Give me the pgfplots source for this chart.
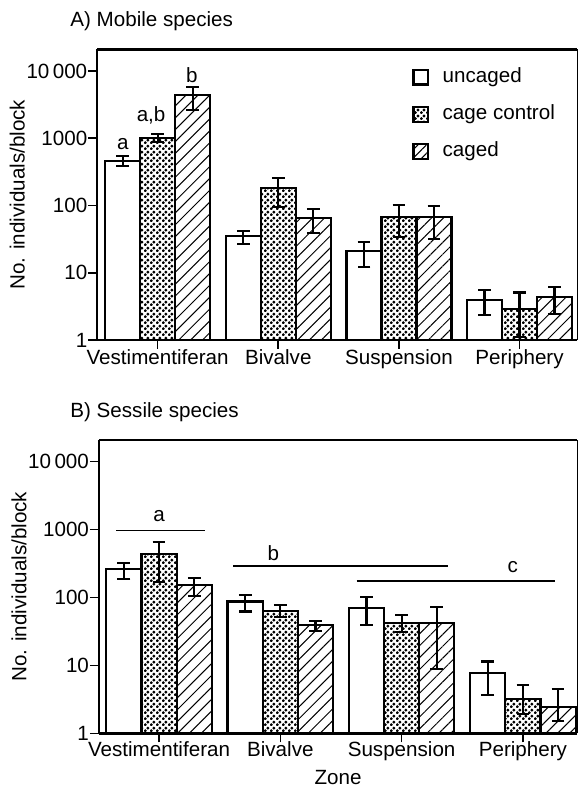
\documentclass[border=0pt]{standalone}
\usepackage{fontspec}
\setmainfont{Liberation Sans}
\usepackage{pgfplots}
\pgfplotsset{compat=1.18}
\usepackage{pgfplotstable}
\usetikzlibrary{patterns,patterns.meta}

\tikzdeclarepattern{
  name=stipple, type=uncolored,
  bottom left={(0pt,0pt)}, top right={(3pt,3pt)}, tile size={(3pt,3pt)},
  code={\pgfpathcircle{\pgfpoint{0.75pt}{0.75pt}}{0.92pt}\pgfpathcircle{\pgfpoint{2.25pt}{2.25pt}}{0.92pt}\pgfusepath{fill}}
}

% Panel A (mobile species): group, mean, upper, lower
\pgfplotstableread{
g y hi lo
0 464 545 387
1 35.2 42.2 26.8
2 21.3 29 12.3
3 3.89 5.54 2.35
}\Aunc
\pgfplotstableread{
g y hi lo
0 998 1157 889
1 180 259 96
2 68.2 102 34.4
3 2.86 5.1 1.12
}\Acc
\pgfplotstableread{
g y hi lo
0 4400 5850 2630
1 64.5 87.8 39.4
2 66.7 99.3 31.4
3 4.36 6.2 2.44
}\Acag
% Panel B (sessile species)
\pgfplotstableread{
g y hi lo
0 260 326 185
1 87 109 62
2 69.3 100.7 39.4
3 7.8 11.4 3.66
}\Bunc
\pgfplotstableread{
g y hi lo
0 433 663 171
1 64 77.5 52
2 42.6 55 31.4
3 3.2 5.1 1.9
}\Bcc
\pgfplotstableread{
g y hi lo
0 153 196 105
1 39.4 45 32.4
2 41.7 73 8.8
3 2.47 4.45 1.5
}\Bcag

\newcommand{\fs}{\fontsize{10.3}{12}\selectfont}
\newcommand{\ft}{\fontsize{10.3}{12}\selectfont}

\begin{document}
\begin{tikzpicture}
\path (0pt,0pt) rectangle (289pt,-396pt);
\node[anchor=west, font=\fs, inner sep=0pt] at (35pt,-10.5pt) {A) Mobile species};
\node[anchor=west, font=\fs, inner sep=0pt] at (35pt,-205.9pt) {B) Sessile species};

\begin{axis}[at={(48.65pt,-170pt)}, anchor=south west,
  scale only axis, width=239.85pt, height=145.35pt, xmin=-0.5, xmax=3.476,
  ymode=log, ymin=1, ymax=21000,
  axis lines=left, axis line style={-, line width=1.2pt},
  xtick={0,1,2,3}, xticklabels={Vestimentiferan,Bivalve,Suspension,Periphery},
  ytick={1,10,100,1000,10000},
  yticklabels={{\ft 1},{\ft 10},{\ft 100},{\ft 1000},{\ft 10\,000}},
  yminorticks=false, tick align=outside, major tick length=4.5pt,
  tick style={line width=0.8pt, black},
  xticklabel style={yshift=3pt, font=\fs},
  yticklabel style={xshift=3pt, font=\ft},
  ylabel={No. individuals/block},
  every axis y label/.style={at={(axis description cs:0,0.5)}, xshift=-40pt, rotate=90, anchor=center, font=\fs},
  clip=false,
  legend style={at={(0.656,0.954)}, anchor=north west, draw=none, fill=none, inner sep=0pt,
    row sep=4.6pt, font=\fs, nodes={text height=0.75em, text depth=0.25em}},
  legend cell align=left]
\addlegendimage{legend image code/.code={\draw[line width=1.1pt, fill=white] (0pt,-3.7pt) rectangle (7.4pt,3.7pt); \path (12.4pt,0pt);}}
\addlegendentry{uncaged}
\addlegendimage{legend image code/.code={\draw[line width=1.1pt, pattern=stipple, pattern color=black] (0pt,-3.7pt) rectangle (7.4pt,3.7pt); \path (12.4pt,0pt);}}
\addlegendentry{cage control}
\addlegendimage{legend image code/.code={\draw[line width=1.1pt, pattern={Lines[angle=45,distance=3pt,line width=0.5pt]}, pattern color=black] (0pt,-3.7pt) rectangle (7.4pt,3.7pt); \path (12.4pt,0pt);}}
\addlegendentry{caged}
\addplot[forget plot, ybar, bar width=0.29, bar shift=0pt, draw=black, line width=1.1pt, fill=white,
  error bars/.cd, y dir=both, y explicit, error bar style={line width=1.1pt, black},
  error mark options={rotate=90, mark size=3.2pt, line width=1.1pt, black}]
  table[x expr=\thisrow{g}-0.29, y=y,
  y error plus expr=\thisrow{hi}-\thisrow{y}, y error minus expr=\thisrow{y}-\thisrow{lo}] {\Aunc};
\addplot[forget plot, ybar, bar width=0.29, bar shift=0pt, draw=black, line width=1.1pt, pattern=stipple, pattern color=black,
  error bars/.cd, y dir=both, y explicit, error bar style={line width=1.1pt, black},
  error mark options={rotate=90, mark size=3.2pt, line width=1.1pt, black}]
  table[x expr=\thisrow{g}, y=y,
  y error plus expr=\thisrow{hi}-\thisrow{y}, y error minus expr=\thisrow{y}-\thisrow{lo}] {\Acc};
\addplot[forget plot, ybar, bar width=0.29, bar shift=0pt, draw=black, line width=1.1pt, pattern={Lines[angle=45,distance=4.2pt,line width=0.5pt]}, pattern color=black,
  error bars/.cd, y dir=both, y explicit, error bar style={line width=1.1pt, black},
  error mark options={rotate=90, mark size=3.2pt, line width=1.1pt, black}]
  table[x expr=\thisrow{g}+0.29, y=y,
  y error plus expr=\thisrow{hi}-\thisrow{y}, y error minus expr=\thisrow{y}-\thisrow{lo}] {\Acag};
\draw[line width=1.2pt] (rel axis cs:0,1) -- (rel axis cs:1,1);
\draw[line width=0.4pt] (rel axis cs:1,0) -- (rel axis cs:1,1);
\node[font=\fs] at (axis cs:-0.288,820) {a};
\node[font=\fs] at (axis cs:-0.054,2220) {a,b};
\node[font=\fs] at (axis cs:0.284,8720) {b};
\end{axis}

\begin{axis}[at={(49.5pt,-366.65pt)}, anchor=south west,
  scale only axis, width=239pt, height=146.75pt, xmin=-0.495, xmax=3.446,
  ymode=log, ymin=1, ymax=21000,
  axis lines=left, axis line style={-, line width=1.2pt},
  xtick={0,1,2,3}, xticklabels={Vestimentiferan,Bivalve,Suspension,Periphery},
  ytick={1,10,100,1000,10000},
  yticklabels={{\ft 1},{\ft 10},{\ft 100},{\ft 1000},{\ft 10\,000}},
  yminorticks=false, tick align=outside, major tick length=4.5pt,
  tick style={line width=0.8pt, black},
  xticklabel style={yshift=4pt, font=\fs},
  yticklabel style={xshift=3pt, font=\ft},
  ylabel={No. individuals/block},
  every axis y label/.style={at={(axis description cs:0,0.5)}, xshift=-40pt, rotate=90, anchor=center, font=\fs},
  xlabel={Zone},
  every axis x label/.style={at={(axis description cs:0.5,0)}, anchor=center, yshift=-22.3pt, font=\fs},
  clip=false]
\addplot[ybar, bar width=0.29, bar shift=0pt, draw=black, line width=1.1pt, fill=white,
  error bars/.cd, y dir=both, y explicit, error bar style={line width=1.1pt, black},
  error mark options={rotate=90, mark size=3.2pt, line width=1.1pt, black}]
  table[x expr=\thisrow{g}-0.29, y=y,
  y error plus expr=\thisrow{hi}-\thisrow{y}, y error minus expr=\thisrow{y}-\thisrow{lo}] {\Bunc};
\addplot[ybar, bar width=0.29, bar shift=0pt, draw=black, line width=1.1pt, pattern=stipple, pattern color=black,
  error bars/.cd, y dir=both, y explicit, error bar style={line width=1.1pt, black},
  error mark options={rotate=90, mark size=3.2pt, line width=1.1pt, black}]
  table[x expr=\thisrow{g}, y=y,
  y error plus expr=\thisrow{hi}-\thisrow{y}, y error minus expr=\thisrow{y}-\thisrow{lo}] {\Bcc};
\addplot[ybar, bar width=0.29, bar shift=0pt, draw=black, line width=1.1pt, pattern={Lines[angle=45,distance=4.2pt,line width=0.5pt]}, pattern color=black,
  error bars/.cd, y dir=both, y explicit, error bar style={line width=1.1pt, black},
  error mark options={rotate=90, mark size=3.2pt, line width=1.1pt, black}]
  table[x expr=\thisrow{g}+0.29, y=y,
  y error plus expr=\thisrow{hi}-\thisrow{y}, y error minus expr=\thisrow{y}-\thisrow{lo}] {\Bcag};
\addplot[black, line width=0.6pt] coordinates {(-0.354,964) (0.379,964)};
\addplot[black, line width=0.6pt] coordinates {(0.613,291) (2.385,291)};
\addplot[black, line width=0.6pt] coordinates {(1.63,175) (3.265,175)};
\draw[line width=1.2pt] (rel axis cs:0,1) -- (rel axis cs:1,1);
\draw[line width=0.4pt] (rel axis cs:1,0) -- (rel axis cs:1,1);
\node[font=\fs] at (axis cs:0,1585) {a};
\node[font=\fs] at (axis cs:0.942,457) {b};
\node[font=\fs] at (axis cs:2.916,284) {c};
\end{axis}
\end{tikzpicture}
\end{document}
